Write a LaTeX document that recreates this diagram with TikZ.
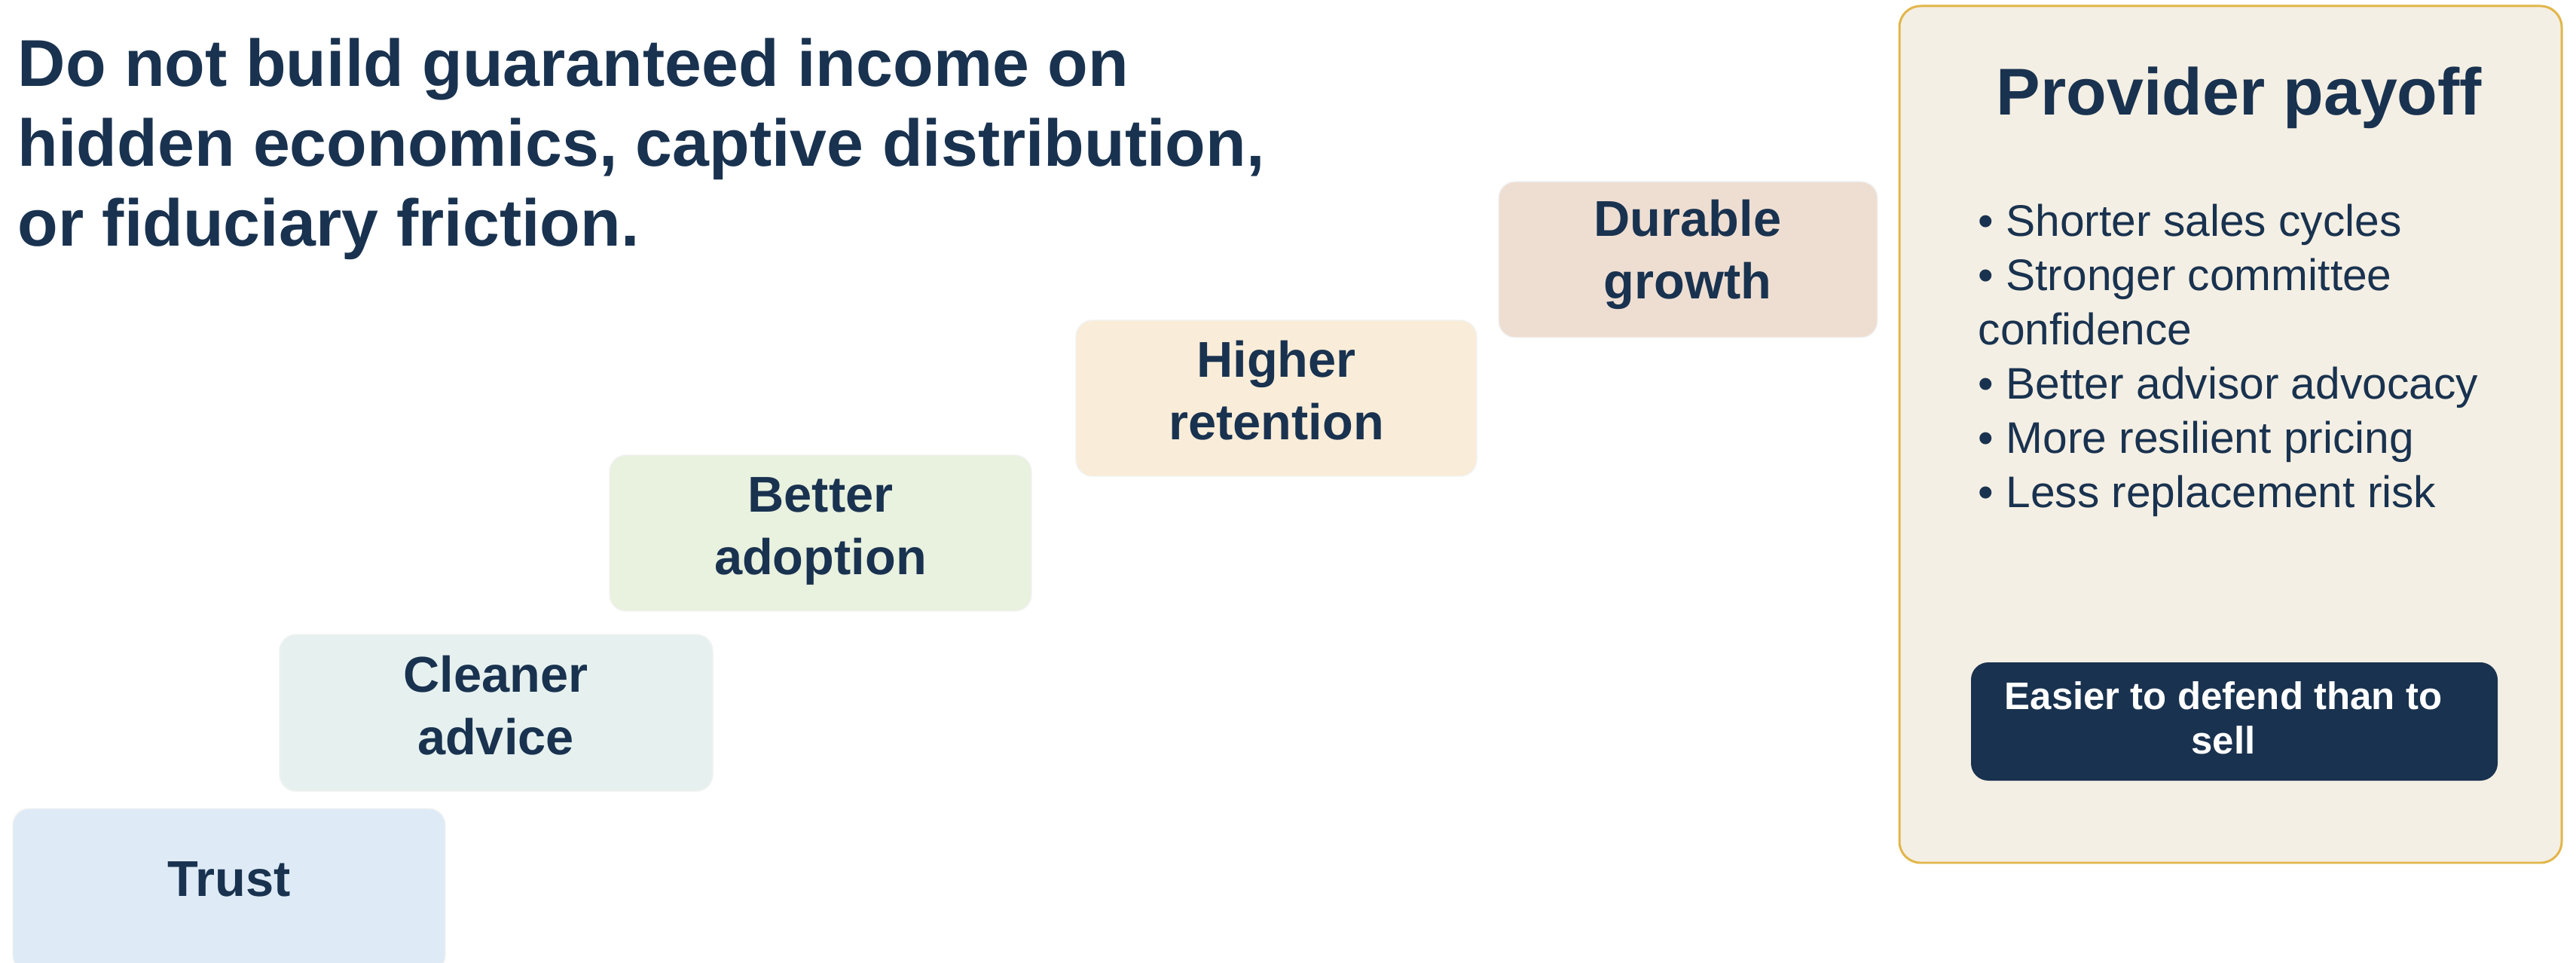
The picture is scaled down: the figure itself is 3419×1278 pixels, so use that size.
\documentclass[tikz,border=0pt]{standalone}
\usepackage{fontspec}
\setmainfont{Liberation Sans}
\usetikzlibrary{fit}

\definecolor{navy}{HTML}{19324F}
\definecolor{trustfill}{HTML}{DEEBF6}
\definecolor{advicefill}{HTML}{E6F1EF}
\definecolor{adoptfill}{HTML}{E9F1DF}
\definecolor{retainfill}{HTML}{F9EDD9}
\definecolor{growthfill}{HTML}{EEDED2}
\definecolor{panelfill}{HTML}{F4EFE4}
\definecolor{panelrule}{HTML}{E1B64A}

\begin{document}
\begin{tikzpicture}[x=0.1mm,y=-0.1mm,
    tier/.style={rounded corners=2.2mm,draw=black!5,line width=0.4pt,inner sep=0pt},
    tierlabel/.style={text=navy,align=center,inner sep=0pt,
        font=\bfseries\fontsize{19}{23.6}\selectfont}]
\useasboundingbox (0,0) rectangle (3419,1278);

% heading
\node[anchor=north west,inner sep=0pt,align=left,text=navy,
      font=\bfseries\fontsize{25}{30.2}\selectfont] (headline) at (23,50)
      {Do not build guaranteed income on\\hidden economics, captive distribution,\\or fiduciary friction.};

% the staircase
\node[tier,fill=trustfill,fit={(17,1073) (591,1290)}] (trust) {};
\node[tierlabel] (trust-l) at (304,1167) {Trust};
\node[tier,fill=advicefill,fit={(371,842) (946,1050)}] (advice) {};
\node[tierlabel] (advice-l) at (658,936) {Cleaner\\advice};
\node[tier,fill=adoptfill,fit={(809,604) (1369,811)}] (adoption) {};
\node[tierlabel] (adoption-l) at (1089,705) {Better\\adoption};
\node[tier,fill=retainfill,fit={(1428,425) (1960,632)}] (retention) {};
\node[tierlabel] (retention-l) at (1694,518) {Higher\\retention};
\node[tier,fill=growthfill,fit={(1989,241) (2492,448)}] (growth) {};
\node[tierlabel] (growth-l) at (2240,338) {Durable\\growth};

% payoff panel
\node[rounded corners=2.8mm,fill=panelfill,draw=panelrule,line width=0.85pt,
      inner sep=0pt,fit={(2521,8) (3400,1145)}] (payoff) {};
\node[text=navy,inner sep=0pt,font=\bfseries\fontsize{25}{30}\selectfont]
      (payoff-t) at (2972,130) {Provider payoff};
\node[anchor=north west,inner sep=0pt,align=left,text=navy,
      font=\fontsize{16.7}{20.5}\selectfont] (payoff-list) at (2625,270)
      {• Shorter sales cycles\\• Stronger committee\\confidence\\• Better advisor advocacy\\• More resilient pricing\\• Less replacement risk};
\node[rounded corners=2.3mm,fill=navy,inner sep=0pt,fit={(2616,879) (3315,1036)}] (defend) {};
\node[text=white,align=center,inner sep=0pt,font=\bfseries\fontsize{14.5}{16.8}\selectfont]
      (defend-l) at (2951,953) {Easier to defend than to\\sell};
\end{tikzpicture}
\end{document}
